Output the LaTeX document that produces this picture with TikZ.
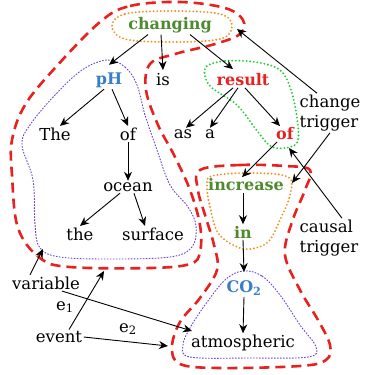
\documentclass[tikz,border=0pt]{standalone}
\usepackage{fontspec}
\setmainfont{DejaVu Serif}
\usetikzlibrary{arrows.meta}
\definecolor{tgreen}{HTML}{4E8A2E}
\definecolor{tblue}{HTML}{3A7EC6}
\definecolor{tred}{HTML}{E42222}
\definecolor{dred}{HTML}{E8201E}
\definecolor{dorange}{HTML}{F39020}
\definecolor{dgreen}{HTML}{22CC33}
\definecolor{dpurple}{HTML}{6A3FD0}
\tikzset{
  word/.style={font=\fontsize{16.5}{19}\selectfont, inner sep=1.5pt},
  gword/.style={word, font=\fontsize{16}{19}\selectfont\bfseries, text=tgreen},
  bword/.style={word, font=\fontsize{16}{19}\selectfont\bfseries, text=tblue},
  rword/.style={word, font=\fontsize{16}{19}\selectfont\bfseries, text=tred},
  lbl/.style={word, align=left, anchor=west, font=\fontsize{16.5}{20}\selectfont},
  arr/.style={-{Stealth[length=9pt,width=8pt]}, line width=0.9pt},
  reddash/.style={draw=dred, line width=2.6pt, dash pattern=on 10pt off 6pt},
  purpdot/.style={draw=dpurple, line width=0.9pt, dash pattern=on 1.6pt off 1.4pt},
  orangedot/.style={draw=dorange, line width=2.1pt, dash pattern=on 0pt off 3.6pt, line cap=round},
  greendot/.style={draw=dgreen, line width=2.1pt, dash pattern=on 0pt off 3.6pt, line cap=round},
}
\begin{document}
\begin{tikzpicture}[x=1pt,y=-1pt]
\useasboundingbox (0,0) rectangle (365,375);
% regions
\draw[reddash] plot[smooth cycle, tension=0.6] coordinates {(100,22) (130,6) (180,2) (225,8) (243,20) (240,34) (215,44) (175,54) (150,64) (146,90) (158,125) (174,155) (190,190) (200,225) (200,252) (190,264) (150,268) (70,267) (40,258) (18,228) (12,175) (12,140) (25,105) (55,68)};
\draw[purpdot] plot[smooth cycle, tension=0.6] coordinates {(107,60) (125,67) (137,85) (145,115) (157,150) (170,185) (188,207) (196,226) (192,247) (170,257) (110,259) (60,257) (40,248) (35,225) (33,180) (22,145) (30,125) (55,95) (82,70)};
\draw[orangedot] plot[smooth cycle, tension=0.6] coordinates {(112,26) (125,14) (171,11) (220,14) (232,26) (220,39) (171,42) (125,39)};
\draw[greendot] plot[smooth cycle, tension=0.6] coordinates {(207,66) (225,61) (255,62) (280,70) (291,90) (297,118) (298,140) (290,147) (272,147) (258,132) (237,105) (212,88) (205,76)};
\draw[orangedot] plot[smooth cycle, tension=0.6] coordinates {(212,176) (250,173) (288,177) (290,195) (280,220) (268,242) (250,249) (235,246) (218,233) (210,207) (207,186)};
\draw[reddash] plot[smooth cycle, tension=0.6] coordinates {(200,170) (240,165) (285,166) (310,170) (305,190) (292,222) (285,255) (300,290) (318,320) (330,345) (326,360) (300,366) (220,368) (180,364) (172,347) (180,322) (200,298) (217,270) (214,245) (205,215) (198,190)};
\draw[purpdot] plot[smooth cycle, tension=0.6] coordinates {(243,271) (262,276) (280,295) (300,325) (316,347) (308,357) (250,358) (190,357) (183,345) (190,328) (205,305) (225,280)};
% words
\node[gword] (chg) at (170,25) {changing};
\node[bword] (ph) at (109,80) {pH};
\node[word] (is) at (163,80) {is};
\node[rword] (res) at (243,80) {result};
\node[word] (the1) at (55,134) {The};
\node[word] (of1) at (128,134) {of};
\node[word] (as) at (183,134) {as};
\node[word] (a) at (210,134) {a};
\node[rword] (of2) at (285,134) {of};
\node[word] (ocean) at (128,187) {ocean};
\node[word] (the2) at (80,234) {the};
\node[word] (surf) at (153,234) {surface};
\node[gword] (inc) at (246,185) {increase};
\node[gword] (in) at (243,232) {in};
\node[bword] (co2) at (244,288) {CO\textsubscript{2}};
\node[word] (atm) at (243,343) {atmospheric};
\node[lbl] (ct) at (298,113) {change\\trigger};
\node[lbl] (caus) at (298,238) {causal\\trigger};
\node[word] (var) at (46,283) {variable};
\node[word] (ev) at (59,337) {event};
\node[word] (e1) at (65,307) {e\textsubscript{1}};
\node[word] (e2) at (128,329) {e\textsubscript{2}};
% free ends
\coordinate (r1ne) at (237,29);
\coordinate (oincE) at (292,183);
\coordinate (grnS) at (289,148);
\coordinate (p1sw) at (43,249);
\coordinate (p2w) at (192,331);
\coordinate (r1s) at (104,271);
\coordinate (r2w) at (168,346);
% arrows
\draw[arr] ([xshift=-22pt]chg.south) -- ([yshift=6pt]ph.north);
\draw[arr] ([xshift=-9pt]chg.south) -- ([yshift=2pt]is.north);
\draw[arr] ([xshift=20pt]chg.south) -- ([xshift=-10pt,yshift=3pt]res.north);
\draw[arr] ([xshift=-5pt]ph.south) -- ([xshift=5pt]the1.north);
\draw[arr] ([xshift=3pt]ph.south) -- (of1.north);
\draw[arr] (of1.south) -- (ocean.north);
\draw[arr] ([xshift=-8pt]ocean.south) -- (the2.north);
\draw[arr] ([xshift=6pt]ocean.south) -- ([xshift=-8pt]surf.north);
\draw[arr] ([xshift=-10pt]res.south) -- ([xshift=3pt]as.north);
\draw[arr] ([xshift=-5pt]res.south) -- (a.north);
\draw[arr] ([xshift=2pt]res.south) -- ([xshift=-5pt]of2.north);
\draw[arr] ([xshift=-8pt]of2.south) -- ([xshift=-4pt]inc.north);
\draw[arr] ([xshift=-3pt]inc.south) -- (in.north);
\draw[arr] (in.south) -- ([yshift=7pt]co2.north);
\draw[arr] (co2.south) -- (atm.north);
\draw[arr] ([xshift=19pt]ct.north west) -- (r1ne);
\draw[arr] ([xshift=32pt]ct.south west) -- (oincE);
\draw[arr] ([xshift=44pt]caus.north west) -- (grnS);
\draw[arr] ([xshift=-16pt]var.north) -- (p1sw);
\draw[arr] ([xshift=16pt]var.south) -- (p2w);
\draw[arr] ([xshift=10pt]ev.north) -- (r1s);
\draw[arr] (ev.east) -- (r2w);
\end{tikzpicture}
\end{document}
